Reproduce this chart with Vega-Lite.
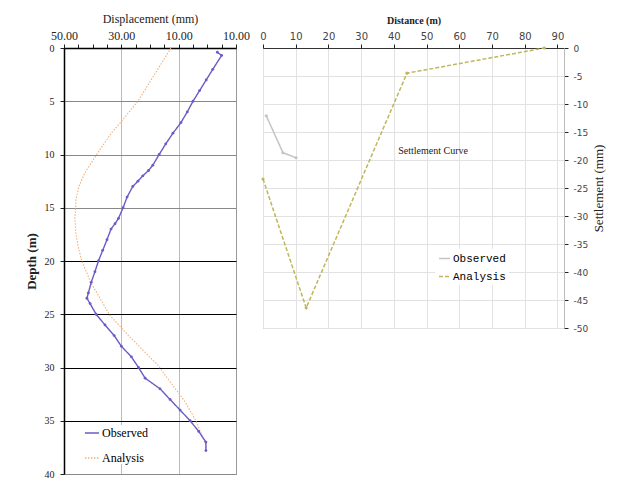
{
  "$schema": "https://vega.github.io/schema/vega-lite/v6.json",
  "background": "white",
  "padding": {"left": 24, "top": 11, "right": 4, "bottom": 0},
  "config": {
    "font": "Liberation Serif",
    "view": {"stroke": "#999", "strokeWidth": 1},
    "axis": {"labelFont": "Liberation Serif", "titleFont": "Liberation Serif", "titleFontWeight": "normal", "labelColor": "#222", "titleColor": "#222", "tickColor": "#222", "domainColor": "#222", "labelOverlap": false, "labelFlush": false},
    "legend": {"labelFont": "Liberation Serif"}
  },
  "datasets": {
    "disp": [
      {"d": 0.4, "v": -3.5, "s": "Observed"},
      {"d": 0.7, "v": -5.0, "s": "Observed"},
      {"d": 2, "v": -1.9, "s": "Observed"},
      {"d": 3, "v": 0.4, "s": "Observed"},
      {"d": 4, "v": 2.7, "s": "Observed"},
      {"d": 5, "v": 5.0, "s": "Observed"},
      {"d": 6, "v": 7.0, "s": "Observed"},
      {"d": 7, "v": 9.2, "s": "Observed"},
      {"d": 8, "v": 12.0, "s": "Observed"},
      {"d": 9, "v": 14.5, "s": "Observed"},
      {"d": 10, "v": 16.8, "s": "Observed"},
      {"d": 11, "v": 19.0, "s": "Observed"},
      {"d": 11.5, "v": 20.5, "s": "Observed"},
      {"d": 12, "v": 22.5, "s": "Observed"},
      {"d": 12.5, "v": 24.2, "s": "Observed"},
      {"d": 13, "v": 26.0, "s": "Observed"},
      {"d": 14, "v": 28.0, "s": "Observed"},
      {"d": 15, "v": 29.4, "s": "Observed"},
      {"d": 16, "v": 31.0, "s": "Observed"},
      {"d": 16.5, "v": 32.2, "s": "Observed"},
      {"d": 17, "v": 33.6, "s": "Observed"},
      {"d": 18, "v": 35.0, "s": "Observed"},
      {"d": 19, "v": 36.5, "s": "Observed"},
      {"d": 20, "v": 38.0, "s": "Observed"},
      {"d": 21, "v": 39.2, "s": "Observed"},
      {"d": 22, "v": 40.5, "s": "Observed"},
      {"d": 23, "v": 41.5, "s": "Observed"},
      {"d": 23.5, "v": 42.0, "s": "Observed"},
      {"d": 24, "v": 40.9, "s": "Observed"},
      {"d": 25, "v": 38.8, "s": "Observed"},
      {"d": 26, "v": 35.7, "s": "Observed"},
      {"d": 27, "v": 32.5, "s": "Observed"},
      {"d": 28, "v": 30.0, "s": "Observed"},
      {"d": 29, "v": 26.5, "s": "Observed"},
      {"d": 30, "v": 24.0, "s": "Observed"},
      {"d": 31, "v": 21.7, "s": "Observed"},
      {"d": 32, "v": 16.5, "s": "Observed"},
      {"d": 33, "v": 13.0, "s": "Observed"},
      {"d": 34, "v": 9.5, "s": "Observed"},
      {"d": 35, "v": 6.0, "s": "Observed"},
      {"d": 36, "v": 3.0, "s": "Observed"},
      {"d": 37, "v": 0.5, "s": "Observed"},
      {"d": 37.8, "v": 0.5, "s": "Observed"},
      {"d": 0, "v": 12.7, "s": "Analysis"},
      {"d": 5, "v": 24.2, "s": "Analysis"},
      {"d": 6.7, "v": 29.4, "s": "Analysis"},
      {"d": 8, "v": 33.5, "s": "Analysis"},
      {"d": 9.8, "v": 38.1, "s": "Analysis"},
      {"d": 11.7, "v": 42.7, "s": "Analysis"},
      {"d": 13, "v": 44.8, "s": "Analysis"},
      {"d": 14.2, "v": 45.8, "s": "Analysis"},
      {"d": 16, "v": 46.2, "s": "Analysis"},
      {"d": 17.5, "v": 45.8, "s": "Analysis"},
      {"d": 18.6, "v": 45.1, "s": "Analysis"},
      {"d": 20, "v": 43.8, "s": "Analysis"},
      {"d": 21, "v": 42.2, "s": "Analysis"},
      {"d": 22.1, "v": 40.6, "s": "Analysis"},
      {"d": 23, "v": 38.5, "s": "Analysis"},
      {"d": 25.1, "v": 34.0, "s": "Analysis"},
      {"d": 27, "v": 27.5, "s": "Analysis"},
      {"d": 29.8, "v": 17.2, "s": "Analysis"},
      {"d": 31.7, "v": 12.0, "s": "Analysis"},
      {"d": 33.2, "v": 7.8, "s": "Analysis"},
      {"d": 35, "v": 4.0, "s": "Analysis"},
      {"d": 37.3, "v": 0.5, "s": "Analysis"},
      {"d": 37.8, "v": 0.3, "s": "Analysis"}
    ],
    "settle": [
      {"x": 1, "y": -12.1, "s": "Observed"},
      {"x": 6.1, "y": -18.7, "s": "Observed"},
      {"x": 10.1, "y": -19.6, "s": "Observed"},
      {"x": 0, "y": -23.4, "s": "Analysis"},
      {"x": 13.2, "y": -46.4, "s": "Analysis"},
      {"x": 44, "y": -4.5, "s": "Analysis"},
      {"x": 86, "y": 0, "s": "Analysis"}
    ],
    "label": [{"t": "Settlement Curve"}]
  },
  "hconcat": [
    {
      "width": 172,
      "height": 426,
      "data": {"name": "disp"},
      "encoding": {
        "x": {"field": "v", "type": "quantitative",
          "scale": {"domain": [-10, 50], "reverse": true, "nice": false, "zero": false},
          "axis": {"orient": "top", "title": "Displacement (mm)", "titleFontSize": 12, "titlePadding": 4,
            "values": [-10, -5, 0, 5, 10, 15, 20, 25, 30, 35, 40, 45, 50],
            "labelExpr": "(datum.value - 50) % 20 == 0 ? format(abs(datum.value), '.2f') : ''",
            "labelFontSize": 12, "labelPadding": 2, "tickSize": 4, "domainColor": "#000", "domainWidth": 1.5,
            "gridColor": "#bbb",
            "gridOpacity": {"condition": {"test": "datum.value == 30 || datum.value == 10", "value": 1}, "value": 0}}},
        "y": {"field": "d", "type": "quantitative",
          "scale": {"domain": [0, 40], "reverse": true, "nice": false},
          "axis": {"title": "Depth (m)", "titleFontSize": 13, "titleFontWeight": "bold", "titlePadding": 6,
            "values": [0, 5, 10, 15, 20, 25, 30, 35, 40], "labelFontSize": 10, "tickSize": 4, "labelPadding": 6,
            "domainColor": "#000", "domainWidth": 1.5,
            "gridColor": {"condition": {"test": "datum.value >= 20 && datum.value < 40", "value": "#000"}, "value": "#888"},
            "gridWidth": {"condition": {"test": "datum.value >= 20 && datum.value < 40", "value": 1.2}, "value": 1}}},
        "color": {"field": "s", "type": "nominal",
          "scale": {"domain": ["Observed", "Analysis"], "range": ["#6a5cc4", "#f0b07a"]},
          "legend": {"title": null, "orient": "none", "legendX": 20, "legendY": 377, "symbolType": "stroke",
            "symbolSize": 200, "symbolStrokeWidth": 1.5, "labelFontSize": 12, "rowPadding": 11, "labelOffset": 2,
            "fillColor": "white"}},
        "strokeDash": {"field": "s", "type": "nominal",
          "scale": {"domain": ["Observed", "Analysis"], "range": [[1, 0], [1.5, 1.5]]},
          "legend": null},
        "order": {"field": "d", "type": "quantitative"}
      },
      "layer": [
        {
          "transform": [{"filter": "datum.s == 'Analysis'"}],
          "mark": {"type": "line", "strokeWidth": 1.1}
        },
        {
          "transform": [{"filter": "datum.s == 'Observed'"}],
          "mark": {"type": "line", "strokeWidth": 1.4, "point": {"filled": true, "size": 8, "color": "#4a3fa0"}}
        }
      ]
    },
    {
      "width": 301,
      "height": 280,
      "layer": [
        {
          "data": {"name": "settle"},
          "mark": {"type": "line", "strokeWidth": 1.5, "point": {"filled": true, "size": 10}},
          "encoding": {
            "x": {"field": "x", "type": "quantitative",
              "scale": {"domain": [0, 92], "nice": false},
              "axis": {"orient": "top", "title": "Distance (m)", "titleFontSize": 10, "titleFontWeight": "bold", "titlePadding": 6,
                "values": [0, 10, 20, 30, 40, 50, 60, 70, 80, 90], "labelFont": "DejaVu Sans", "labelFontSize": 10,
                "labelColor": "#444", "tickSize": 4, "labelPadding": 3, "gridColor": "#e2e2e2", "domainColor": "#333"}},
            "y": {"field": "y", "type": "quantitative",
              "scale": {"domain": [-50, 0], "nice": false},
              "axis": {"orient": "right", "title": "Settlement (mm)", "titleFontSize": 13, "titleAngle": 270, "titlePadding": 18,
                "values": [-50, -45, -40, -35, -30, -25, -20, -15, -10, -5, 0],
                "labelExpr": "(datum.value < 0 ? '-' : '') + abs(datum.value)",
                "labelFont": "DejaVu Sans", "labelFontSize": 9,
                "labelColor": "#444", "tickSize": 4, "labelPadding": 5, "gridColor": "#e2e2e2", "domainColor": "#bbb"}},
            "color": {"field": "s", "type": "nominal",
              "scale": {"domain": ["Observed", "Analysis"], "range": ["#c4c4c4", "#c2b55a"]},
              "legend": {"title": null, "orient": "none", "legendX": 172, "legendY": 201, "symbolType": "stroke",
                "symbolSize": 120, "symbolStrokeWidth": 1.5, "labelFont": "Liberation Mono", "labelFontSize": 11,
                "rowPadding": 6, "labelOffset": 2, "fillColor": "white", "padding": 3}},
            "strokeDash": {"field": "s", "type": "nominal",
              "scale": {"domain": ["Observed", "Analysis"], "range": [[1, 0], [4, 2]]},
              "legend": null}
          }
        },
        {
          "data": {"name": "label"},
          "mark": {"type": "text", "font": "Liberation Serif", "fontSize": 10, "color": "#222"},
          "encoding": {
            "x": {"datum": 52, "type": "quantitative",
              "scale": {"domain": [0, 92], "nice": false},
              "axis": {"orient": "top", "title": "Distance (m)", "titleFontSize": 10, "titleFontWeight": "bold", "titlePadding": 6,
                "values": [0, 10, 20, 30, 40, 50, 60, 70, 80, 90], "labelFont": "DejaVu Sans", "labelFontSize": 10,
                "labelColor": "#444", "tickSize": 4, "labelPadding": 3, "gridColor": "#e2e2e2", "domainColor": "#333"}},
            "y": {"datum": -18.4, "type": "quantitative",
              "scale": {"domain": [-50, 0], "nice": false},
              "axis": {"orient": "right", "title": "Settlement (mm)", "titleFontSize": 13, "titleAngle": 270, "titlePadding": 18,
                "values": [-50, -45, -40, -35, -30, -25, -20, -15, -10, -5, 0],
                "labelExpr": "(datum.value < 0 ? '-' : '') + abs(datum.value)",
                "labelFont": "DejaVu Sans", "labelFontSize": 9,
                "labelColor": "#444", "tickSize": 4, "labelPadding": 5, "gridColor": "#e2e2e2", "domainColor": "#bbb"}},
            "text": {"field": "t"}
          }
        }
      ]
    }
  ],
  "spacing": 9,
  "align": "none",
  "resolve": {"scale": {"color": "independent", "strokeDash": "independent", "x": "independent", "y": "independent"}, "legend": {"color": "independent"}}
}
